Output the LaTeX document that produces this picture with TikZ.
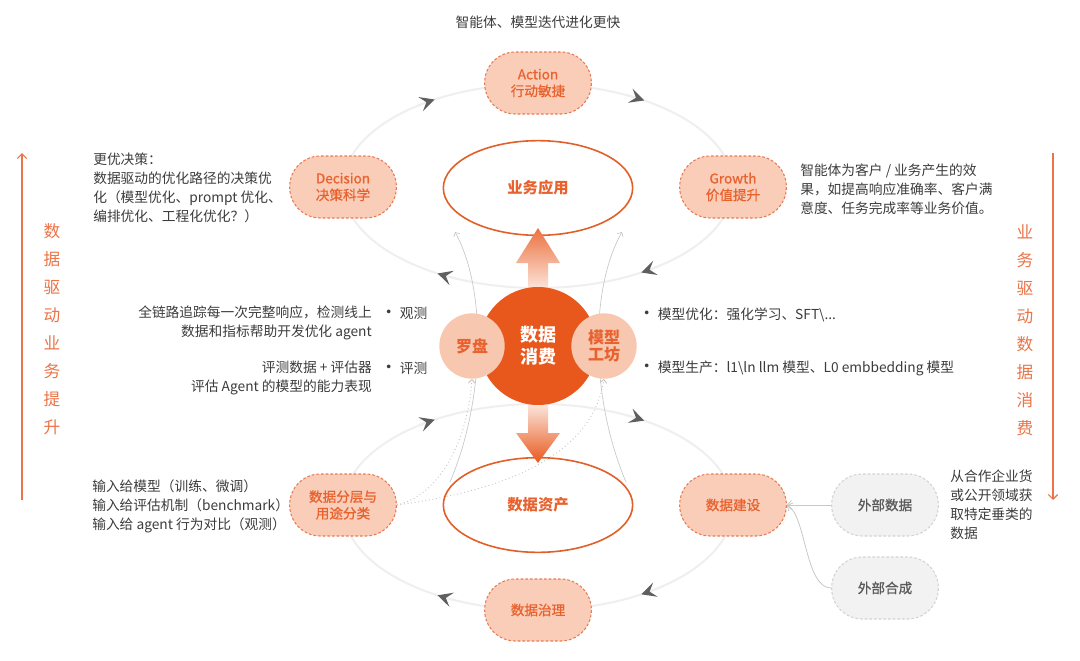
\documentclass[tikz,border=0pt]{standalone}
\usepackage{fontspec}
\setmainfont{Noto Sans CJK SC}
\newfontfamily\medfont{Noto Sans CJK SC}[FakeBold=0.9]
\usetikzlibrary{arrows.meta,shapes.geometric}
\definecolor{orTxt}{HTML}{E8622F}
\definecolor{orFill}{HTML}{F9CDB8}
\definecolor{orLine}{HTML}{E77B55}
\definecolor{orDark}{HTML}{E8581D}
\definecolor{orCirc}{HTML}{F8C7B0}
\definecolor{orEll}{HTML}{E06028}
\definecolor{txtGray}{HTML}{3C3C3C}
\definecolor{loopGray}{HTML}{EFEFEF}
\definecolor{tipGray}{HTML}{5F5F5F}
\definecolor{extFill}{HTML}{F2F2F2}
\definecolor{extLine}{HTML}{D3D3D3}
\definecolor{extTxt}{HTML}{5A5A5A}
\definecolor{thinGray}{HTML}{C8C8C8}
\definecolor{vertOr}{HTML}{EB7448}
\begin{document}
\begin{tikzpicture}[x=0.75pt,y=-0.75pt,
 pill/.style={rectangle, rounded corners=23pt, minimum width=80pt, minimum height=46.5pt,
   fill=orFill, draw=orLine, dash pattern=on 2pt off 1.5pt, line width=0.8pt, text=orTxt,
   align=center, font=\medfont\fontsize{10.2}{12.5}\selectfont, inner sep=0pt},
 extpill/.style={pill, fill=extFill, draw=extLine, text=extTxt},
 body/.style={text=txtGray, font=\fontsize{10.3}{14.2}\selectfont, inner sep=0pt},
 bigell/.style={ellipse, draw=orEll, line width=1.2pt, fill=white, minimum width=142pt,
   minimum height=71pt, inner sep=0pt, text=orTxt, font=\fontsize{11.5}{14}\selectfont\bfseries},
 loopline/.style={draw=loopGray, line width=1.5pt},
 looptip/.style={loopGray, line width=1.5pt, -{Stealth[length=11pt, width=11pt, inset=4.5pt, color=tipGray]}},
 thinconn/.style={draw=thinGray, line width=0.5pt, -{Straight Barb[length=2.5pt, width=5pt]}},
 dotconn/.style={draw=thinGray, line width=0.7pt, dotted, -{Straight Barb[length=2.5pt, width=5pt]}},
 extconn/.style={draw=thinGray, line width=0.6pt},
 vert/.style={text=vertOr, align=center, inner sep=0pt, font=\fontsize{12.5}{21}\selectfont},
 vertarrow/.style={draw=vertOr, line width=0.9pt},
 smallc/.style={circle, fill=orCirc, minimum size=49pt, inner sep=0pt, text=orTxt, align=center,
   font=\fontsize{12}{12.8}\selectfont\bfseries}
]
\fill[white] (0,0) rectangle (1080,660);
\useasboundingbox (0,0) rectangle (1080,660);

% loops
\draw[loopline] (538,186) ellipse [x radius=195, y radius=102];
\draw[loopline] (538,507) ellipse [x radius=195, y radius=103];
\foreach \a in {-128,-63,52,115}{
  \draw[looptip] (538,186) ++(\a:195 and 102) arc[start angle=\a, end angle=\a+6, x radius=195, y radius=102];
  \draw[looptip] (538,507) ++(\a:195 and 103) arc[start angle=\a, end angle=\a+6, x radius=195, y radius=103];
}

% thin curves
\coordinate (lbot) at (450,482);
\coordinate (ltop) at (455,232);
\coordinate (rbot) at (626,482);
\coordinate (rtop) at (622,232);
\draw[thinconn] (lbot) .. controls (485,400) and (487,290) .. (ltop);
\draw[thinconn] (rbot) .. controls (591,400) and (589,290) .. (rtop);

% ellipses
\node[bigell] (app) at (538,188) {业务应用};
\node[bigell] (asset) at (538,505) {数据资产};

% nodes
\node[pill] (action) at (538,83) {Action\\行动敏捷};
\node[pill] (decision) at (343,187) {Decision\\决策科学};
\node[pill] (growth) at (733,187) {Growth\\价值提升};
\node[pill] (layer) at (343,505) {数据分层与\\用途分类};
\node[pill] (build) at (733,505) {数据建设};
\node[pill] (govern) at (538,610) {数据治理};
\node[extpill] (ext1) at (885,505) {外部数据};
\node[extpill] (ext2) at (885,588) {外部合成};

% gradient arrows
\shade[top color=orDark!85, bottom color=orFill!40]
  (538,228) -- (560,263) -- (548,263) -- (548,292) -- (528,292) -- (528,263) -- (516,263) -- cycle;
\shade[top color=orFill!30, bottom color=orDark]
  (528,400) -- (548,400) -- (548,433) -- (560,433) -- (538,463) -- (516,433) -- (528,433) -- cycle;

% center
\node[circle, fill=orDark, minimum size=88.5pt, inner sep=0pt, text=white, align=center,
  font=\fontsize{13.5}{16.5}\selectfont\bfseries] (consume) at (538,346) {数据\\消费};
\node[smallc] (compass) at (472,346) {罗盘};
\node[smallc] (forge) at (604,346) {模型\\工坊};

% dotted connectors
\draw[dotconn] (layer.east) .. controls (440,495) and (468,440) .. (compass.south);
\draw[dotconn] (layer.east) .. controls (470,495) and (590,470) .. (forge.south);

% external connectors
\draw[extconn, -{Straight Barb[length=3pt, width=7pt]}] (ext1.west) -- (build.east);
\draw[extconn, -{Straight Barb[length=3pt, width=7pt]}] (ext2.west) .. controls (805,588) and (806,515) .. (build.east);

% texts
\node[body] (title) at (538,22) {智能体、模型迭代进化更快};
\node[body, anchor=west, align=left] (dtext) at (93,188) {更优决策：\\数据驱动的优化路径的决策优\\化（模型优化、prompt 优化、\\编排优化、工程化优化？）};
\node[body, anchor=west, align=left] (gtext) at (800,189) {智能体为客户 / 业务产生的效\\果，如提高响应准确率、客户满\\意度、任务完成率等业务价值。};
\node[body, anchor=east, align=right] (obs) at (372,323) {全链路追踪每一次完整响应，检测线上\\数据和指标帮助开发优化 agent};
\node[body, anchor=west] (obsb) at (380,313) {{\fontsize{13}{14}\selectfont •}\,观测};
\node[body, anchor=east, align=right] (evl) at (372,377.5) {评测数据 + 评估器\\评估 Agent 的模型的能力表现};
\node[body, anchor=west] (evlb) at (380,368) {{\fontsize{13}{14}\selectfont •}\,评测};
\node[body, anchor=west] (mopt) at (638,315) {{\fontsize{13}{14}\selectfont •}\,模型优化：强化学习、SFT\textbackslash...};
\node[body, anchor=west] (mprod) at (638,368) {{\fontsize{13}{14}\selectfont •}\,模型生产：l1\textbackslash ln llm 模型、L0 embbedding 模型};
\node[body, anchor=west, align=left] (ltext) at (92,506.5) {输入给模型（训练、微调）\\输入给评估机制（benchmark）\\输入给 agent 行为对比（观测）};
\node[body, anchor=west, align=left] (etext) at (950,505) {从合作企业货\\或公开领域获\\取特定垂类的\\数据};

% vertical labels
\coordinate (lvb) at (22,500);
\coordinate (lvt) at (22,153);
\coordinate (rvt) at (1053,153);
\coordinate (rvb) at (1053,500);
\draw[vertarrow, -{Straight Barb[length=3.5pt, width=7pt]}] (lvb) -- (lvt);
\draw[vertarrow, -{Straight Barb[length=3.5pt, width=7pt]}] (rvt) -- (rvb);
\node[vert] (vl) at (52,329) {数\\据\\驱\\动\\业\\务\\提\\升};
\node[vert] (vr) at (1025,330) {业\\务\\驱\\动\\数\\据\\消\\费};
\end{tikzpicture}
\end{document}
